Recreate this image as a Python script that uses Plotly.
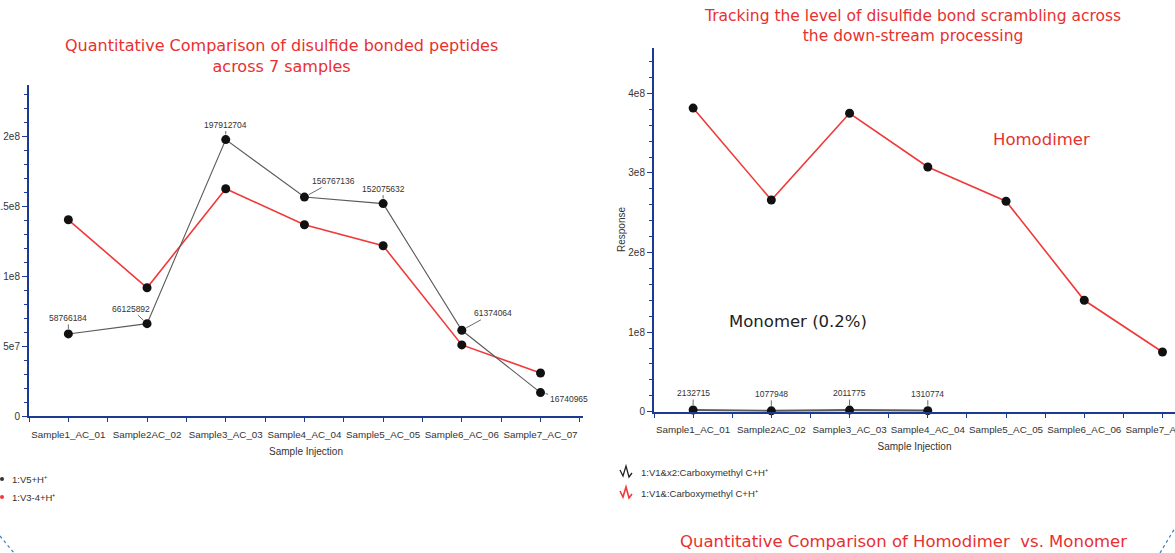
import plotly.graph_objects as go

W, H = 1175, 553

samples = ["Sample1_AC_01", "Sample2AC_02", "Sample3_AC_03", "Sample4_AC_04",
           "Sample5_AC_05", "Sample6_AC_06", "Sample7_AC_07"]

# Left chart: disulfide bonded peptides
v5_vals = [58766184, 66125892, 197912704, 156767136, 152075632, 61374064, 16740965]
v34_vals = [140500000, 91800000, 162700000, 136900000, 121900000, 50900000, 30800000]
v5_name = "1:V5+H⁺"
v34_name = "1:V3-4+H⁺"

# Right chart: homodimer vs monomer
homodimer_vals = [381500000, 266000000, 375000000, 307500000, 264500000, 140000000, 75000000]
monomer_vals = [2132715, 1077948, 2011775, 1310774]
monomer_name = "1:V1&x2:Carboxymethyl C+H⁺"
homodimer_name = "1:V1&:Carboxymethyl C+H⁺"

# label offsets (pixels) for the left gray series
v5_label_offsets = [(0, -16), (-16, -15), (0, -15), (29, -16), (0, -15), (31, -17), (28, 6)]

RED = "#f03a3a"
TITLE_RED = "#e8302f"
GRAY = "#5a5a5a"
NAVY = "#1c3a94"
TXT = "#333333"
FONT = "Liberation Sans"


def px(x):
    return x / W


def py(y):
    return 1 - y / H


x_idx = list(range(len(samples)))

fig = go.Figure()
marker = dict(color="#111111", size=9)
fig.add_trace(go.Scatter(x=x_idx, y=v34_vals, mode="lines+markers", name=v34_name,
                         line=dict(color=RED, width=1.6), marker=marker,
                         xaxis="x", yaxis="y", showlegend=False))
fig.add_trace(go.Scatter(x=x_idx, y=v5_vals, mode="lines+markers", name=v5_name,
                         line=dict(color=GRAY, width=1.1), marker=marker,
                         xaxis="x", yaxis="y", showlegend=False))
fig.add_trace(go.Scatter(x=x_idx, y=homodimer_vals, mode="lines+markers", name=homodimer_name,
                         line=dict(color=RED, width=1.6), marker=marker,
                         xaxis="x2", yaxis="y2", showlegend=False, cliponaxis=False))
fig.add_trace(go.Scatter(x=x_idx[:len(monomer_vals)], y=monomer_vals, mode="lines+markers",
                         name=monomer_name,
                         line=dict(color=GRAY, width=2.2), marker=marker,
                         xaxis="x2", yaxis="y2", showlegend=False, cliponaxis=False))

common_x = dict(
    tickmode="array", tickvals=x_idx, ticktext=samples, tickangle=0, automargin=False,
    ticklabeloverflow="allow", ticklabelstandoff=4,
    showline=True, linecolor=NAVY, linewidth=2, ticks="outside", ticklen=4,
    tickcolor=NAVY, tickwidth=1.2, showgrid=False, zeroline=False,
    tickfont=dict(family=FONT, size=9.8, color=TXT),
    minor=dict(ticks="outside", ticklen=4, tickcolor=NAVY, tick0=-0.5, dtick=1, showgrid=False),
    title=dict(text="Sample Injection", font=dict(family=FONT, size=10, color=TXT), standoff=9),
)
common_y = dict(
    showline=True, linecolor=NAVY, linewidth=2, ticks="outside", ticklen=5, automargin=False,
    ticklabeloverflow="allow",
    tickcolor=NAVY, tickwidth=1.2, showgrid=False, zeroline=False,
    tickfont=dict(family=FONT, size=10, color=TXT), exponentformat="e",
)

fig.update_layout(
    width=W, height=H, margin=dict(l=0, r=0, t=0, b=0, autoexpand=False),
    paper_bgcolor="white", plot_bgcolor="white",
    xaxis=dict(common_x, domain=[px(29), px(583)], range=[-0.5, 6.54], anchor="y"),
    yaxis=dict(common_y, domain=[py(416), py(85)], range=[0, 2.37e8], anchor="x",
               tickvals=[0, 5e7, 1e8, 1.5e8, 2e8], ticktext=["0", "5e7", "1e8", "1.5e8", "2e8"],
               minor=dict(ticks="outside", ticklen=3, tickcolor=NAVY, tick0=0, dtick=1e7)),
    xaxis2=dict(common_x, domain=[px(654), 1.0], range=[-0.5, 6.16], anchor="y2"),
    yaxis2=dict(common_y, domain=[py(411.7), py(48)], range=[0, 4.57e8], anchor="x2",
                tickvals=[0, 1e8, 2e8, 3e8, 4e8], ticktext=["0", "1e8", "2e8", "3e8", "4e8"],
                minor=dict(ticks="outside", ticklen=3, tickcolor=NAVY, tick0=0, dtick=2e7)),
    showlegend=False,
)

annotations = []
label_font = dict(family=FONT, size=8.5, color=TXT)
for i, v in enumerate(v5_vals):
    ax, ay = v5_label_offsets[i]
    annotations.append(dict(x=i, y=v, xref="x", yref="y", text=str(v), showarrow=True,
                            arrowhead=0, arrowwidth=0.8, arrowcolor="#444", standoff=5,
                            ax=ax, ay=ay, font=label_font))
for i, v in enumerate(monomer_vals):
    annotations.append(dict(x=i, y=v, xref="x2", yref="y2", text=str(v), showarrow=True,
                            arrowhead=0, arrowwidth=0.8, arrowcolor="#444", standoff=5,
                            ax=0, ay=-17, font=label_font))


def text_ann(x, y, text, font, xanchor="center", **kw):
    d = dict(x=px(x), y=py(y), xref="paper", yref="paper", showarrow=False,
             xanchor=xanchor, yanchor="middle", text=text, font=font)
    d.update(kw)
    return d


title_font = dict(family="DejaVu Sans", size=16, color=TITLE_RED)
legend_font = dict(family=FONT, size=9.5, color=TXT)
annotations += [
    text_ann(281, 56, "Quantitative Comparison of disulfide bonded peptides<br>across 7 samples",
             title_font, align="center"),
    text_ann(912, 26, "Tracking the level of disulfide bond scrambling across<br>the down-stream processing",
             dict(title_font, size=15.5), align="center"),
    text_ann(903, 541, "Quantitative Comparison of Homodimer  vs. Monomer",
             dict(title_font, size=16.5)),
    text_ann(1041, 139, "Homodimer", dict(family="DejaVu Sans", size=16.5, color=TITLE_RED)),
    text_ann(798, 321, "Monomer (0.2%)", dict(family="DejaVu Sans", size=16.5, color="#222")),
    text_ann(622, 230, "Response", dict(family=FONT, size=10, color=TXT), textangle=-90),
    # left legend
    text_ann(10, 479, v5_name, legend_font, xanchor="left"),
    text_ann(10, 497, v34_name, legend_font, xanchor="left"),
    # right legend
    text_ann(639, 472, monomer_name, legend_font, xanchor="left"),
    text_ann(639, 493, homodimer_name, legend_font, xanchor="left"),
]
fig.update_layout(annotations=annotations)


def zig(x0, y0):
    pts = [(x0, y0 - 2), (x0 + 3, y0 + 4), (x0 + 6, y0 - 6), (x0 + 9, y0 + 5), (x0 + 12, y0 + 1)]
    return "M " + " L ".join(f"{px(a):.5f},{py(b):.5f}" for a, b in pts)


shapes = [
    dict(type="path", xref="paper", yref="paper", path=zig(620, 472),
         line=dict(color="#222", width=1.3)),
    dict(type="path", xref="paper", yref="paper", path=zig(620, 493),
         line=dict(color=RED, width=1.6)),
    dict(type="circle", xref="paper", yref="paper", x0=px(0), x1=px(4), y0=py(481), y1=py(477),
         fillcolor="#333", line=dict(width=0)),
    dict(type="circle", xref="paper", yref="paper", x0=px(0), x1=px(4), y0=py(499), y1=py(495),
         fillcolor=RED, line=dict(width=0)),
    dict(type="line", xref="paper", yref="paper", x0=px(0), y0=py(536), x1=px(14), y1=py(553),
         line=dict(color="#3a7cc8", width=1.2, dash="dot")),
    dict(type="line", xref="paper", yref="paper", x0=px(1160), y0=py(553), x1=px(1175), y1=py(528),
         line=dict(color="#3a7cc8", width=1.2, dash="dot")),
]
fig.update_layout(shapes=shapes)

fig.write_html("out.html", config={"displayModeBar": False},
               post_script="document.body.style.margin='0';document.body.style.overflow='hidden';")
